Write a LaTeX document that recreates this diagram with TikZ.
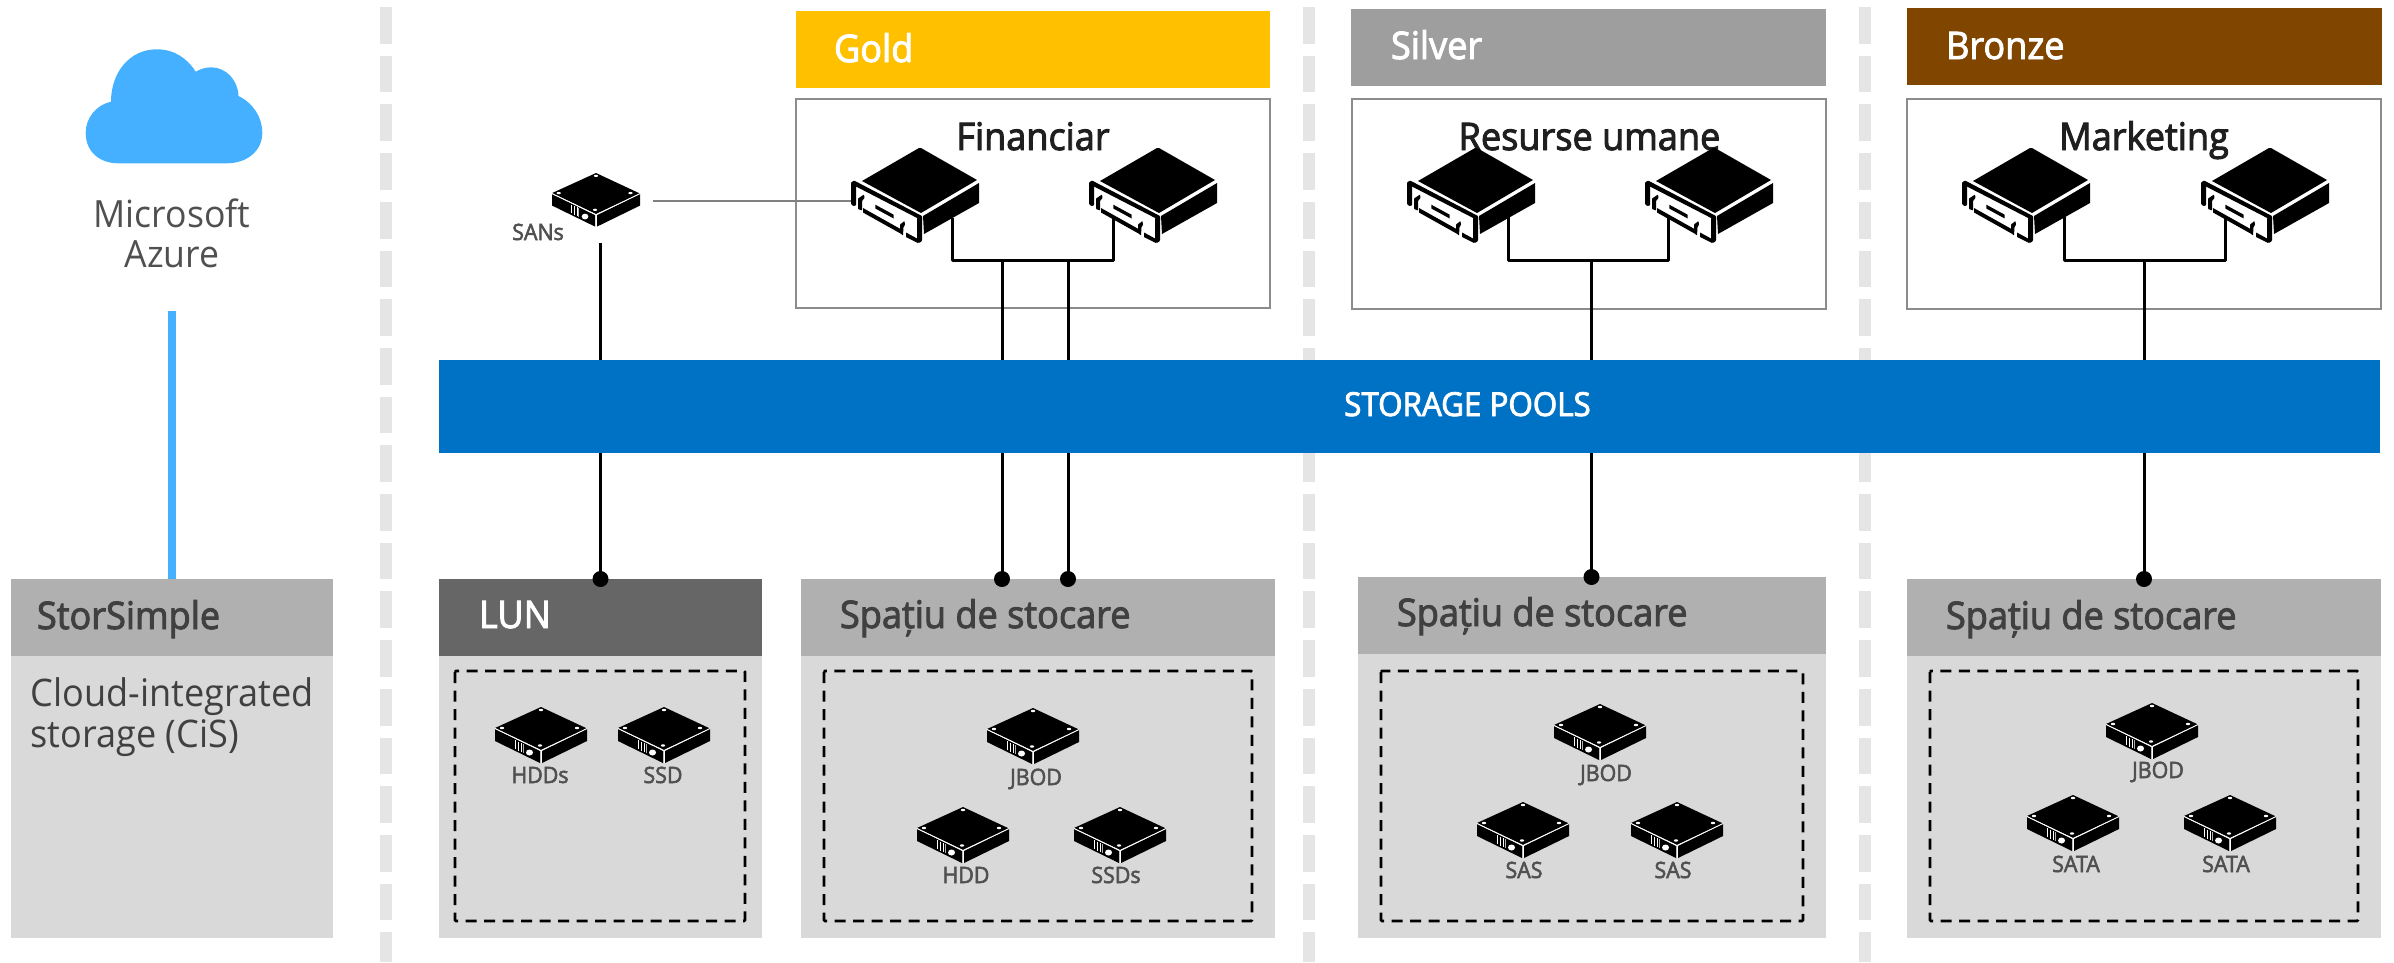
\documentclass[tikz,border=0pt]{standalone}
\usepackage{fontspec}
\setmainfont{Open Sans}[FakeStretch=0.95]
\newfontfamily\semi{Open Sans}[FakeStretch=0.95,FakeBold=2.5]
\usetikzlibrary{calc}
\definecolor{skyb}{HTML}{45B0FF}
\definecolor{sep}{HTML}{E5E5E5}
\definecolor{hdrg}{HTML}{B0B0B0}
\definecolor{bodyg}{HTML}{D9D9D9}
\definecolor{txtg}{HTML}{404040}
\definecolor{lblg}{HTML}{505050}
\definecolor{goldc}{HTML}{FFC000}
\definecolor{silverc}{HTML}{9E9E9E}
\definecolor{bronzec}{HTML}{804600}
\definecolor{lunc}{HTML}{666666}
\definecolor{poolc}{HTML}{0072C6}
\newcommand{\fs}[1]{\fontsize{#1}{#1}\selectfont}
\tikzset{
  sepline/.style={line width=12pt,sep,dash pattern=on 36.7pt off 12pt},
  wire/.style={line width=3pt,black,line join=round},
  thin wire/.style={line width=2pt,black!50},
  dot/.style={circle,fill=black,inner sep=0pt,minimum size=16pt},
  dashbox/.style={draw=black,line width=2.6pt,dash pattern=on 11pt off 7.5pt,rounded corners=1pt},
  txt/.style={inner sep=0pt,outer sep=0pt,anchor=base west},
  tier/.style={txt,font=\semi\fs{38},text=white},
  head/.style={txt,font=\semi\fs{38},text=txtg},
  title/.style={inner sep=0pt,outer sep=0pt,anchor=base,font=\semi\fs{38},text=black!88},
  lbl/.style={inner sep=0pt,outer sep=0pt,anchor=base,font=\semi\fs{22.5},text=lblg},
  panel/.style={draw=black!45,line width=1.6pt,fill=white},
  server/.pic={
    \fill[black] (11,33) -- (68,0) -- (70,0) -- (126,32) -- (70,65) -- cycle;
    \fill[black] (128,35) -- (128,55) -- (73,86) -- (72,68) -- cycle;
    % front frame pieces
    \fill[black,rounded corners=0.8pt] (0,34.5) -- (3,32.5) -- (71,68) -- (71,72.5) -- (4,38) -- cycle;
    \fill[black,rounded corners=0.8pt] (0,34) -- (5,36) -- (5,57.5) -- (2,58) -- (0,56) -- cycle;
    \fill[black,rounded corners=0.8pt] (66,70) -- (71,68) -- (71,93) -- (68,95) -- (66,94) -- cycle;
    \fill[black] (55,84.5) -- (67,91) -- (67,95) -- (55,89) -- cycle;
    \fill[black] (12,60) -- (49.5,81) -- (49.5,85.5) -- (12,64.5) -- cycle;
    \fill[black,rounded corners=0.6pt] (13,46.5) -- (7,50.5) -- (7,61) -- (11,62.5) -- (11,53) -- (13.5,50) -- cycle;
    \fill[black,rounded corners=0.6pt] (53.5,73) -- (49,76.5) -- (49,85) -- (52,87.5) -- (52.5,79) -- (54,77) -- cycle;
    \fill[black] (24.3,56.7) -- (42.7,66.7) -- (42.7,70.5) -- (24.3,60.5) -- cycle;
  },
  disk/.pic={
    \fill[black] (0,21) -- (46,0) -- (92,21.5) -- (46,43) -- cycle;
    \fill[black] (0,22) -- (45,44) -- (45,56) -- (0,34) -- cycle;
    \fill[black] (47,44) -- (92,22) -- (92,34) -- (47,56) -- cycle;
    \draw[white,line width=0.9pt] (0,21.5) -- (46,43.5) -- (92,21.5);
    \draw[white,line width=0.9pt] (46,43.5) -- (46,56);
    \fill[white] (46,3) ellipse (2.2 and 1.2);
    \fill[white] (7,21) ellipse (2.2 and 1.2);
    \fill[white] (82,21) ellipse (2.2 and 1.2);
    \fill[white] (45,38.5) ellipse (2.2 and 1.2);
    \draw[white,line width=0.7pt] (20,33) -- (20,42) (23,34.5) -- (23,43.5) (26,36) -- (26,45);
    \draw[white!70!black,line width=0.7pt] (28,37) -- (28,46);
    \fill[white] (34.5,45.5) ellipse (3.5 and 3);
  }
}
\begin{document}
\begin{tikzpicture}[x=1pt,y=-1pt]
\useasboundingbox (0,0) rectangle (2394,962);
% separators
\foreach \x/\n in {386/a,1309/b,1865/c}{
  \coordinate (sep\n t) at (\x,7);
  \coordinate (sep\n b) at (\x,962);
  \draw[sepline] (sep\n t) -- (sep\n b);
}
% cloud
\fill[skyb] (118,163.3) .. controls (100,163.3) and (85.7,152) .. (85.7,133)
 .. controls (85.7,118) and (96,105) .. (111,101.7)
 .. controls (111,72) and (130,49.3) .. (156.7,49.3)
 .. controls (174,49.3) and (187,58) .. (195.7,71.7)
 .. controls (200,69) and (206,67.3) .. (211,67.3)
 .. controls (226,67.3) and (238,80) .. (238.5,96)
 .. controls (253,103) and (262.3,117) .. (262.3,133)
 .. controls (262.3,150) and (248,163.3) .. (226.7,163.3) -- cycle;
\node[inner sep=0pt,anchor=base,font=\fs{37.5},text=lblg] (ms) at (172,227) {Microsoft};
\node[inner sep=0pt,anchor=base,font=\fs{37.5},text=lblg] (az) at (172,267) {Azure};
% tier headers
\fill[goldc] (796,11) rectangle (1270,88);
\fill[silverc] (1351,9) rectangle (1826,86);
\fill[bronzec] (1907,8) rectangle (2382,85);
\node[tier] (gold) at (834,62) {Gold};
\node[tier] (silver) at (1391,59) {Silver};
\node[tier] (bronze) at (1946,59) {Bronze};
% panels
\draw[panel] (796,99) rectangle (1270,308);
\draw[panel] (1352,99) rectangle (1826,309);
\draw[panel] (1907,99) rectangle (2381,309);
% lower blocks
\fill[hdrg] (11,579) rectangle (333,656);
\fill[bodyg] (11,656) rectangle (333,938);
\fill[lunc] (439,579) rectangle (762,656);
\fill[bodyg] (439,656) rectangle (762,938);
\fill[hdrg] (801,579) rectangle (1275,656);
\fill[bodyg] (801,656) rectangle (1275,938);
\fill[hdrg] (1358,577) rectangle (1826,654);
\fill[bodyg] (1358,654) rectangle (1826,938);
\fill[hdrg] (1907,579) rectangle (2381,656);
\fill[bodyg] (1907,656) rectangle (2381,938);
% azure link
\coordinate (azl) at (172,311);
\coordinate (stt) at (172,579);
\draw[skyb,line width=8pt] (azl) -- (stt);
% dots and wires
\coordinate (sanT) at (600.5,243);
\node[dot] (dl) at (600.5,579) {};
\node[dot] (d1) at (1002,579) {};
\node[dot] (d2) at (1068,579) {};
\node[dot] (d3) at (1591.5,577) {};
\node[dot] (d4) at (2144,579) {};
\coordinate (g1) at (952,218);
\coordinate (g2) at (1113,218);
\coordinate (s1) at (1508,217);
\coordinate (s2) at (1668,217);
\coordinate (b1) at (2064,217);
\coordinate (b2) at (2225,217);
\draw[wire] (g1) |- (g2 |- 0,260) -- (g2);
\draw[wire] (s1) |- (s2 |- 0,260) -- (s2);
\draw[wire] (b1) |- (b2 |- 0,260) -- (b2);
\draw[wire] (sanT) -- (dl.center);
\draw[wire] (d1.center |- 0,260) -- (d1.center);
\draw[wire] (d2.center |- 0,260) -- (d2.center);
\draw[wire] (d3.center |- 0,260) -- (d3.center);
\draw[wire] (d4.center |- 0,260) -- (d4.center);
% SAN link
\coordinate (sanR) at (653,201);
\coordinate (srvL) at (851,201);
\draw[thin wire] (sanR) -- (srvL);
% pools bar
\fill[poolc] (439,360) rectangle (2380,453);
\node[inner sep=0pt,anchor=base,font=\semi\fs{33},text=white] (pools) at (1467.5,416) {STORAGE POOLS};
% titles
\node[title] (fin) at (1033,150) {Financiar};
\node[title] (hr) at (1589.5,150) {Resurse umane};
\node[title] (mkt) at (2144,150) {Marketing};
% servers
\foreach \x in {851,1089,1407,1645,1962,2201}{
  \pic at (\x,148) {server};
}
% block texts
\node[txt,font=\semi\fs{38},text=txtg] (ss) at (37,629) {StorSimple};
\node[txt,font=\fs{38},text=txtg] (c1) at (30.5,706) {Cloud-integrated};
\node[txt,font=\fs{38},text=txtg] (c2) at (30.5,747) {storage (CiS)};
\node[tier] (lun) at (479,628) {LUN};
\node[head] (sp1) at (840,628) {Spațiu de stocare};
\node[head] (sp2) at (1397,626) {Spațiu de stocare};
\node[head] (sp3) at (1946,629) {Spațiu de stocare};
% dashed boxes
\draw[dashbox] (455,671) rectangle (745,921);
\draw[dashbox] (824,671) rectangle (1252,921);
\draw[dashbox] (1381,671) rectangle (1803,921);
\draw[dashbox] (1930,671) rectangle (2358,921);
% disks
\pic[scale=0.957] at (552,173) {disk};
\foreach \x/\y in {495/707,618/707,987/708,917/807,1074/807,1554/704,1477/802,1631/802,2106/703,2027/795,2184/795}{
  \pic at (\x,\y) {disk};
}
% disk labels
\node[lbl] (lsan) at (538,240) {SANs};
\node[lbl] (lh) at (540,783) {HDDs};
\node[lbl] (ls) at (663,783) {SSD};
\node[lbl] (j1) at (1036,785) {JBOD};
\node[lbl] (hd) at (966,883) {HDD};
\node[lbl] (sd) at (1116,883) {SSDs};
\node[lbl] (j2) at (1606,781) {JBOD};
\node[lbl] (sa1) at (1524,878) {SAS};
\node[lbl] (sa2) at (1673,878) {SAS};
\node[lbl] (j3) at (2158,778) {JBOD};
\node[lbl] (st1) at (2076,872) {SATA};
\node[lbl] (st2) at (2226,872) {SATA};
\end{tikzpicture}
\end{document}
